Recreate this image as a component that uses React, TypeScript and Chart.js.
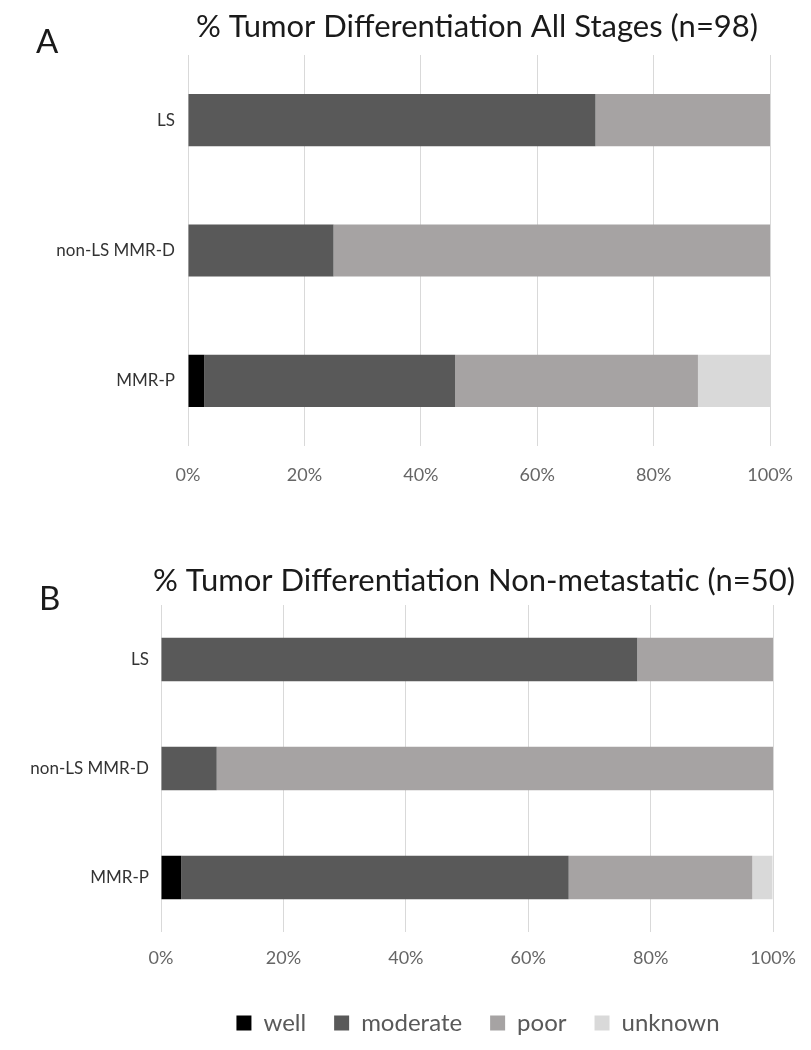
import React, { useEffect, useRef } from 'react';
import { Chart, registerables } from 'chart.js';

Chart.register(...registerables);

// ---------- data ----------
const categories = ['LS', 'non-LS MMR-D', 'MMR-P'];
const seriesNames = ['well', 'moderate', 'poor', 'unknown'];
const seriesColors = ['#000000', '#595959', '#a6a3a3', '#d9d9d9'];
const xTickValues = [0, 20, 40, 60, 80, 100];

// Panel A: all stages (n=98), percent of tumours
const allWell = [0, 0, 2.8];
const allModerate = [70, 25, 43.1];
const allPoor = [30, 75, 41.7];
const allUnknown = [0, 0, 12.5];

// Panel B: non-metastatic (n=50), percent of tumours
const nonMetWell = [0, 0, 3.3];
const nonMetModerate = [77.8, 9.1, 63.3];
const nonMetPoor = [22.2, 90.9, 30.0];
const nonMetUnknown = [0, 0, 3.3];

const titleA = '% Tumor Differentiation All Stages (n=98)';
const titleB = '% Tumor Differentiation Non-metastatic (n=50)';
const letterA = 'A';
const letterB = 'B';

const FONT = 'Lato, "Liberation Sans", sans-serif';

type TextItem = { text: string; x: number; y: number; size: number; align: CanvasTextAlign; color: string };

function makeTextPlugin(items: TextItem[]) {
  return {
    id: 'panelText',
    afterDraw(chart: any) {
      const ctx = chart.ctx as CanvasRenderingContext2D;
      items.forEach((it) => {
        ctx.save();
        ctx.font = `${it.size}px ${FONT}`;
        ctx.fillStyle = it.color;
        ctx.textAlign = it.align;
        ctx.textBaseline = 'alphabetic';
        ctx.fillText(it.text, it.x, it.y);
        ctx.restore();
      });
    },
  };
}

function makeLegendPlacer(cx: number, cy: number) {
  return {
    id: 'legendPlacer',
    afterLayout(chart: any) {
      const lg = chart.legend;
      if (!lg || !chart.options.plugins.legend.display) return;
      const p = lg.options.labels.padding;
      const fontSize = lg.options.labels.font.size;
      const boxH = lg.options.labels.boxHeight || fontSize;
      const itemH = Math.max(fontSize, boxH);
      const h = lg.height;
      const w = lg.width;
      lg.top = cy - p - itemH / 2;
      lg.bottom = lg.top + h;
      lg.left = cx - w / 2;
      lg.right = cx + w / 2;
    },
  };
}

type PanelProps = {
  top: number;
  height: number;
  values: number[][];
  areaTop: number;
  areaBottom: number;
  areaLeft: number;
  areaRight: number;
  tickPad: number;
  catPad: number;
  texts: TextItem[];
  showLegend: boolean;
  legendX?: number;
  legendY?: number;
};

function Panel(props: PanelProps) {
  const ref = useRef<HTMLCanvasElement | null>(null);
  useEffect(() => {
    if (!ref.current) return;
    const width = 811;
    const datasets = seriesNames.map((name, i) => ({
      label: name,
      data: props.values[i],
      backgroundColor: seriesColors[i],
      borderColor: seriesColors[i],
      borderWidth: 0,
      barPercentage: 0.4,
      categoryPercentage: 1.0,
    }));
    const chart = new Chart(ref.current, {
      type: 'bar',
      data: { labels: categories, datasets },
      plugins: [
        makeTextPlugin(props.texts),
        makeLegendPlacer(props.legendX || 0, props.legendY || 0),
      ],
      options: {
        indexAxis: 'y',
        responsive: false,
        maintainAspectRatio: false,
        animation: false,
        layout: {
          padding: {
            top: props.areaTop,
            left: 0,
            right: width - props.areaRight,
            bottom: 0,
          },
        },
        plugins: {
          title: { display: false },
          tooltip: { enabled: false },
          legend: {
            display: props.showLegend,
            position: 'bottom',
            labels: {
              boxWidth: 15,
              boxHeight: 15,
              padding: 28,
              color: '#595959',
              font: { family: FONT, size: 24 },
            },
          },
        },
        scales: {
          x: {
            type: 'linear',
            stacked: true,
            min: 0,
            max: 100,
            afterBuildTicks: (s: any) => {
              s.ticks = xTickValues.map((v) => ({ value: v }));
            },
            afterFit: (s: any) => {
              const lgH = props.showLegend && s.chart.legend ? s.chart.legend.height : 0;
              s.height = props.height - lgH - props.areaBottom;
            },
            grid: {
              display: true,
              color: '#d9d9d9',
              lineWidth: 1,
              drawTicks: false,
            },
            border: { display: false },
            ticks: {
              padding: props.tickPad,
              color: '#666666',
              font: { family: FONT, size: 18 },
              callback: (v: any) => `${v}%`,
            },
          },
          y: {
            type: 'category',
            stacked: true,
            afterFit: (s: any) => {
              s.width = props.areaLeft;
            },
            grid: { display: false, drawTicks: false },
            border: { display: false },
            ticks: {
              padding: props.catPad,
              color: '#333333',
              font: { family: FONT, size: 17 },
            },
          },
        },
      },
    } as any);
    return () => chart.destroy();
  }, []);
  return (
    <canvas
      ref={ref}
      width={811}
      height={props.height}
      style={{ position: 'absolute', left: 0, top: props.top, width: 811, height: props.height, display: 'block' }}
    />
  );
}

export default function App() {
  const topA = 0;
  const heightA = 500;
  const topB = 530;
  const heightB = 520;
  return (
    <div style={{ position: 'absolute', left: 0, top: 0, width: 811, height: 1050, background: '#ffffff', overflow: 'hidden' }}>
      <Panel
        top={topA}
        height={heightA}
        values={[allWell, allModerate, allPoor, allUnknown]}
        areaTop={55}
        areaBottom={446}
        areaLeft={188}
        areaRight={780}
        tickPad={18}
        catPad={13}
        showLegend={false}
        texts={[
          { text: titleA, x: 477, y: 37, size: 31, align: 'center', color: '#1a1a1a' },
          { text: letterA, x: 36, y: 53, size: 33, align: 'left', color: '#1a1a1a' },
        ]}
      />
      <Panel
        top={topB}
        height={heightB}
        values={[nonMetWell, nonMetModerate, nonMetPoor, nonMetUnknown]}
        areaTop={75}
        areaBottom={402}
        areaLeft={161}
        areaRight={777}
        tickPad={15}
        catPad={12}
        showLegend={true}
        legendX={478}
        legendY={493}
        texts={[
          { text: titleB, x: 474, y: 61, size: 31, align: 'center', color: '#1a1a1a' },
          { text: letterB, x: 39, y: 80, size: 33, align: 'left', color: '#1a1a1a' },
        ]}
      />
    </div>
  );
}
